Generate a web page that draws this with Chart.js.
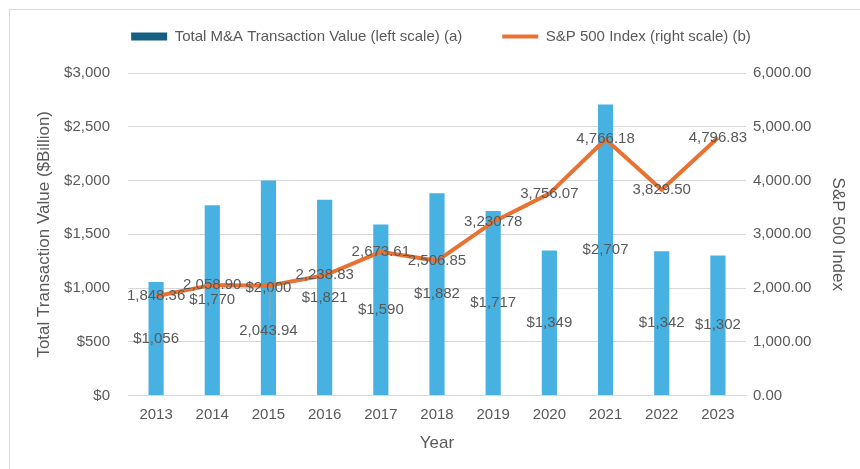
<!DOCTYPE html>
<html>
<head>
<meta charset="utf-8">
<script src="https://cdn.jsdelivr.net/npm/chart.js@4.4.1/dist/chart.umd.min.js"></script>
<style>
  html, body { margin: 0; padding: 0; background: #fff; }
  #wrap { position: relative; width: 860px; height: 469px; }
  #frame { position: absolute; left: 9px; top: 9px; width: 860px; height: 470px; border: 1px solid #d9d9d9; box-sizing: border-box; }
  canvas { position: absolute; left: 0; top: 0; }
</style>
</head>
<body>
<div id="wrap">
  <div id="frame"></div>
  <canvas id="chart" width="860" height="469"></canvas>
</div>
<script>
// data
const years = ['2013', '2014', '2015', '2016', '2017', '2018', '2019', '2020', '2021', '2022', '2023'];
const dealValue = [1056, 1770, 2000, 1821, 1590, 1882, 1717, 1349, 2707, 1342, 1302];
const spIndex = [1848.36, 2058.90, 2043.94, 2238.83, 2673.61, 2506.85, 3230.78, 3756.07, 4766.18, 3829.50, 4796.83];
const leftTicks = [0, 500, 1000, 1500, 2000, 2500, 3000];
const rightTicks = [0, 1000, 2000, 3000, 4000, 5000, 6000];

const FONT = "'Liberation Sans', Arial, sans-serif";
const TEXT = '#595959';
const GRID = '#d9d9d9';
const BAR = '#47b1e1';
const BAR_KEY = '#156082';
const LINE = '#e97132';

const money = v => '$' + Math.round(v).toLocaleString('en-US');
const fixed2 = v => v.toLocaleString('en-US', { minimumFractionDigits: 2, maximumFractionDigits: 2 });

// value labels, centred in bars and on line points (Excel style)
const valueLabels = {
  id: 'valueLabels',
  afterDatasetsDraw(chart, args, opts) {
    const ctx = chart.ctx;
    ctx.save();
    ctx.font = '15px ' + FONT;
    ctx.fillStyle = TEXT;
    ctx.textAlign = 'center';
    ctx.textBaseline = 'middle';

    chart.getDatasetMeta(0).data.forEach((bar, i) => {
      const mid = (bar.y + bar.base) / 2;
      ctx.fillText(money(dealValue[i]), bar.x, mid);
    });

    chart.getDatasetMeta(1).data.forEach((pt, i) => {
      const shift = (opts.shifted || {})[i] || 0;
      if (shift) {
        ctx.strokeStyle = '#a6a6a6';
        ctx.lineWidth = 1;
        ctx.beginPath();
        ctx.moveTo(pt.x + 1.5, pt.y + 4);
        ctx.lineTo(pt.x + 1.5, pt.y + shift - 12);
        ctx.stroke();
      }
      ctx.fillText(fixed2(spIndex[i]), pt.x, pt.y + shift);
    });
    ctx.restore();
  }
};

// fixed legend band height so the plot starts where the reference does
const legendBand = {
  id: 'legendBand',
  beforeInit(chart) {
    const fit = chart.legend.fit;
    chart.legend.fit = function () {
      fit.call(this);
      this.height = 84;
    };
  }
};

new Chart(document.getElementById('chart'), {
  data: {
    labels: years,
    datasets: [
      {
        type: 'bar',
        label: 'Total M&A Transaction Value (left scale) (a)',
        data: dealValue,
        backgroundColor: BAR,
        yAxisID: 'y',
        categoryPercentage: 1,
        barPercentage: 0.27,
        order: 2
      },
      {
        type: 'line',
        label: 'S&P 500 Index (right scale) (b)',
        data: spIndex,
        borderColor: LINE,
        borderWidth: 4,
        pointRadius: 0,
        tension: 0,
        yAxisID: 'y1',
        order: 1
      }
    ]
  },
  options: {
    responsive: false,
    animation: false,
    layout: { padding: { left: 34, right: 12, top: -11, bottom: 11 } },
    plugins: {
      tooltip: { enabled: false },
      valueLabels: { shifted: { 2: 45 } },
      legend: {
        position: 'top',
        labels: {
          color: TEXT,
          font: { family: FONT, size: 15 },
          usePointStyle: true,
          pointStyleWidth: 36,
          boxHeight: 8,
          padding: 40,
          generateLabels() {
            return [
              { text: 'Total M&A Transaction Value (left scale) (a)', fillStyle: BAR_KEY, strokeStyle: BAR_KEY,
                lineWidth: 0, pointStyle: 'rect', fontColor: TEXT, datasetIndex: 0 },
              { text: 'S&P 500 Index (right scale) (b)', fillStyle: LINE, strokeStyle: LINE,
                lineWidth: 4, pointStyle: 'line', fontColor: TEXT, datasetIndex: 1 }
            ];
          }
        }
      }
    },
    scales: {
      x: {
        grid: { display: false },
        border: { color: GRID },
        ticks: { color: TEXT, font: { family: FONT, size: 15 }, padding: 2, maxRotation: 0 },
        title: { display: true, text: 'Year', color: TEXT, font: { family: FONT, size: 17 }, padding: { top: 8, bottom: 4 } }
      },
      y: {
        position: 'left',
        min: 0, max: 3000,
        afterBuildTicks: s => { s.ticks = leftTicks.map(v => ({ value: v })); },
        afterFit: s => { s.width = 94; },
        grid: { color: GRID, drawTicks: false },
        border: { display: false },
        ticks: { color: TEXT, font: { family: FONT, size: 15 }, padding: 18, callback: v => money(v) },
        title: { display: true, text: 'Total Transaction Value ($Billion)', color: TEXT, font: { family: FONT, size: 17 }, padding: 0 }
      },
      y1: {
        position: 'right',
        min: 0, max: 6000,
        afterBuildTicks: s => { s.ticks = rightTicks.map(v => ({ value: v })); },
        afterFit: s => { s.width = 102; },
        grid: { display: false, drawTicks: false },
        border: { display: false },
        ticks: { color: TEXT, font: { family: FONT, size: 15 }, padding: 7, callback: v => fixed2(v) },
        title: { display: true, text: 'S&P 500 Index', color: TEXT, font: { family: FONT, size: 17 }, padding: 0 }
      }
    }
  },
  plugins: [valueLabels, legendBand]
});
</script>
</body>
</html>
